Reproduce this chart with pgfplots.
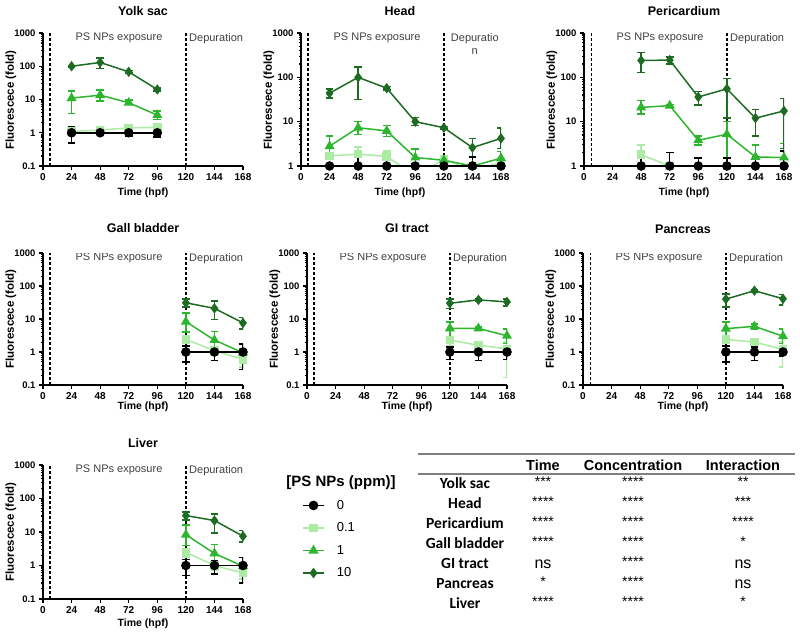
\documentclass[border=0pt]{standalone}
\usepackage{fontspec}
\setmainfont{Liberation Sans}
\newfontfamily\carlito{Carlito}
\usepackage{pgfplots}
\pgfplotsset{compat=1.18}
\definecolor{c01}{HTML}{ABEBA4}
\definecolor{c1}{HTML}{2DB52D}
\definecolor{c10}{HTML}{1E6B23}
\definecolor{txtg}{HTML}{404040}
\definecolor{rulec}{HTML}{7F7F7F}

\pgfplotsset{
  error bars/error bar style={line width=1.5pt, solid},
  error bars/error mark options={rotate=90, mark size=3.8pt, line width=1.5pt},
  every error bar/.append style={line width=1.5pt},
  /pgfplots/mypanel/.style={scale only axis, width=200pt, axis lines=left,
    axis line style={-, line width=1.3pt, black},
    xmin=0, xmax=168, xtick={0,24,48,72,96,120,144,168},
    xticklabels={0,24,48,72,96,120,144,168},
    tick align=outside, major tick length=4pt, minor tick length=2.2pt,
    every tick/.append style={black, line width=1.1pt},
    xticklabel style={font=\bfseries\fontsize{10}{11}\selectfont},
    yticklabel style={font=\bfseries\fontsize{9.5}{10}\selectfont},
  },
  /pgfplots/myeb/.style={error bars/.cd, y dir=both, y explicit,
    error bar style={line width=1.5pt, solid},
    error mark options={rotate=90, mark size=3.8pt, line width=1.5pt}, /pgfplots/.cd},
  /pgfplots/mysA/.style={black, line width=1.5pt, mark=*, mark size=4pt, mark options={solid}, /pgfplots/myeb},
  /pgfplots/mysB/.style={c01, line width=1.5pt, mark=square*, mark size=3.5pt, mark options={solid}, /pgfplots/myeb},
  /pgfplots/mysC/.style={c1, line width=1.5pt, mark=triangle*, mark size=4.3pt, mark options={solid}, /pgfplots/myeb},
  /pgfplots/mysD/.style={c10, line width=1.5pt, mark=diamond*, mark size=4pt, mark options={solid}, /pgfplots/myeb},
  /pgfplots/myvl/.style={black, line width=1.3pt, dash pattern=on 3pt off 2pt, mark=none, forget plot},
}
\tikzset{myann/.style={font=\fontsize{11}{13}\selectfont, text=txtg, inner sep=0pt}}
\newcommand{\vlines}[1]{%
  \addplot[myvl] coordinates {(6,#1) (6,1000)};
  \addplot[myvl] coordinates {(120,#1) (120,1000)};}
\newcommand{\anns}{%
  \node[myann, anchor=north] at (rel axis cs:0.38,1) {PS NPs exposure};
  \node[myann, anchor=north west] at (rel axis cs:0.73,1) {Depuration};}
\newcommand{\ttl}[2]{\node[font=\bfseries\fontsize{12.5}{14}\selectfont] at (#1) {#2};}
\newcommand{\xl}[1]{\node[font=\bfseries\fontsize{10.5}{12}\selectfont] at (#1) {Time (hpf)};}
\newcommand{\yl}[1]{\node[font=\bfseries\fontsize{11.5}{12}\selectfont, rotate=90] at (#1) {Fluorescece (fold)};}
\newcommand{\stars}[2]{\node[font=\fontsize{14}{15}\selectfont, anchor=base, inner sep=0pt] at (#1) {#2};}
\newcommand{\ns}[1]{\node[font=\fontsize{16}{17}\selectfont, anchor=base, inner sep=0pt] at (#1) {ns};}

\begin{document}
\begin{tikzpicture}[line width=1.5pt]
\path[use as bounding box] (0pt,0pt) rectangle (800pt,-637pt);

% ---------------- Yolk sac
\begin{axis}[mypanel, ymode=log, ymin=0.1, ymax=1000, ytick={0.1,1,10,100,1000}, yticklabels={0.1,1,10,100,1000},
    minor ytick={0.2,0.3,0.4,0.5,0.6,0.7,0.8,0.9,2,3,4,5,6,7,8,9,20,30,40,50,60,70,80,90,200,300,400,500,600,700,800,900},
    height=133pt, at={(43pt,-166pt)}, anchor=south west]
\vlines{0.1}
\addplot[mysB] table[x=x,y=y,y error plus=ep,y error minus=em,row sep=\\] {x y ep em\\ 24 1.1 0.1 0.1\\ 48 1.2 0.1 0.1\\ 72 1.4 0.1 0.1\\ 96 1.45 0.15 0.1\\};
\addplot[mysC] table[x=x,y=y,y error plus=ep,y error minus=em,row sep=\\] {x y ep em\\ 24 11 7 7.2\\ 48 13.5 5.5 4.5\\ 72 8 1.5 1.0\\ 96 3.4 1.1 0.9\\};
\addplot[mysD] table[x=x,y=y,y error plus=ep,y error minus=em,row sep=\\] {x y ep em\\ 24 100 5 5\\ 48 130 50 45\\ 72 68 6 6\\ 96 20 2 2\\};
\addplot[mysA] table[x=x,y=y,y error plus=ep,y error minus=em,row sep=\\] {x y ep em\\ 24 1 0.5 0.5\\ 48 1 0.1 0.1\\ 72 1 0.2 0.2\\ 96 1 0.3 0.25\\};
\anns
\end{axis}
\ttl{143pt,-11pt}{Yolk sac}\xl{143pt,-193pt}\yl{11pt,-100pt}

% ---------------- Head
\begin{axis}[mypanel, ymode=log, ymin=1, ymax=1000, ytick={1,10,100,1000}, yticklabels={1,10,100,1000},
    minor ytick={2,3,4,5,6,7,8,9,20,30,40,50,60,70,80,90,200,300,400,500,600,700,800,900},
    height=133pt, at={(301pt,-166pt)}, anchor=south west]
\vlines{1}
\addplot[mysB] table[x=x,y=y,y error plus=ep,y error minus=em,row sep=\\] {x y ep em\\ 24 1.7 0.2 0.2\\ 48 1.85 0.85 0.3\\ 72 1.65 0.55 0.3\\ 96 0.6 0.1 0.1\\ 120 1.4 0.2 0.2\\ 144 0.8 0.1 0.1\\ 168 1.2 0.3 0.3\\};
\addplot[mysC] table[x=x,y=y,y error plus=ep,y error minus=em,row sep=\\] {x y ep em\\ 24 2.8 2.0 1.1\\ 48 7.3 2.9 2.2\\ 72 6.2 2.0 1.6\\ 96 1.55 0.85 0.5\\ 120 1.35 0.2 0.2\\ 144 1.0 0.2 0.2\\ 168 1.5 0.6 0.5\\};
\addplot[mysD] table[x=x,y=y,y error plus=ep,y error minus=em,row sep=\\] {x y ep em\\ 24 44 11 10\\ 48 100 70 68\\ 72 57 5 5\\ 96 10 2.5 1.8\\ 120 7.3 0.5 0.5\\ 144 2.6 1.6 1.0\\ 168 4.2 3 1.7\\};
\addplot[mysA] table[x=x,y=y,y error plus=ep,y error minus=em,row sep=\\] {x y ep em\\ 24 1 0.05 0.05\\ 48 1 0.75 0.5\\ 72 1 0.35 0.3\\ 96 1 0.1 0.1\\ 120 1 0.1 0.1\\ 144 1 0.6 0.5\\ 168 1 0.2 0.2\\};
\node[myann, anchor=north] at (rel axis cs:0.38,1) {PS NPs exposure};
\node[myann, anchor=north, align=center] at (rel axis cs:0.869,1) {Depuratio\\n};
\end{axis}
\ttl{400pt,-11pt}{Head}\xl{400pt,-193pt}\yl{269pt,-100pt}

% ---------------- Pericardium
\begin{axis}[mypanel, ymode=log, ymin=1, ymax=1000, ytick={1,10,100,1000}, yticklabels={1,10,100,1000},
    minor ytick={2,3,4,5,6,7,8,9,20,30,40,50,60,70,80,90,200,300,400,500,600,700,800,900},
    height=133pt, at={(584pt,-166pt)}, anchor=south west]
\vlines{1}
\addplot[mysB] table[x=x,y=y,y error plus=ep,y error minus=em,row sep=\\] {x y ep em\\ 48 1.8 1.2 0.6\\ 72 1.0 0.1 0.1\\ 96 0.8 0.1 0.1\\ 120 1.0 0.5 0.3\\ 144 0.9 0.1 0.1\\ 168 0.9 0.1 0.1\\};
\addplot[mysC] table[x=x,y=y,y error plus=ep,y error minus=em,row sep=\\] {x y ep em\\ 48 21 9 6\\ 72 23 1.5 1.5\\ 96 3.8 1.0 0.8\\ 120 5.2 4.8 3.7\\ 144 1.6 1.4 0.6\\ 168 1.55 1.65 0.6\\};
\addplot[mysD] table[x=x,y=y,y error plus=ep,y error minus=em,row sep=\\] {x y ep em\\ 48 240 120 110\\ 72 245 45 45\\ 96 36 12 12\\ 120 55 40 43\\ 144 12 7 7.3\\ 168 17.5 15.5 15\\};
\addplot[mysA] table[x=x,y=y,y error plus=ep,y error minus=em,row sep=\\] {x y ep em\\ 48 1 0.5 0.5\\ 72 1 1.0 0.5\\ 96 1 0.5 0.5\\ 120 1 0.5 0.5\\ 144 1 0.6 0.5\\ 168 1 1.2 0.5\\};
\anns
\end{axis}
\ttl{684pt,-11pt}{Pericardium}\xl{684pt,-193pt}\yl{552pt,-100pt}

% ---------------- Gall bladder
\begin{axis}[mypanel, ymode=log, ymin=0.1, ymax=1000, ytick={0.1,1,10,100,1000}, yticklabels={0.1,1,10,100,1000},
    minor ytick={0.2,0.3,0.4,0.5,0.6,0.7,0.8,0.9,2,3,4,5,6,7,8,9,20,30,40,50,60,70,80,90,200,300,400,500,600,700,800,900},
    height=132pt, at={(43pt,-385pt)}, anchor=south west]
\vlines{0.1}
\addplot[mysB] table[x=x,y=y,y error plus=ep,y error minus=em,row sep=\\] {x y ep em\\ 120 2.4 0.6 0.6\\ 144 1.1 0.3 0.3\\ 168 0.6 0.3 0.25\\};
\addplot[mysC] table[x=x,y=y,y error plus=ep,y error minus=em,row sep=\\] {x y ep em\\ 120 8.3 6.7 4.3\\ 144 2.3 1.9 1.0\\ 168 0.95 0.3 0.3\\};
\addplot[mysD] table[x=x,y=y,y error plus=ep,y error minus=em,row sep=\\] {x y ep em\\ 120 31 9 8\\ 144 21 14 11.5\\ 168 7.6 3.4 2.6\\};
\addplot[mysA] table[x=x,y=y,y error plus=ep,y error minus=em,row sep=\\] {x y ep em\\ 120 1 0.5 0.5\\ 144 1 0.4 0.45\\ 168 1 0.75 0.7\\};
\anns
\end{axis}
\ttl{143pt,-228pt}{Gall bladder}\xl{143pt,-407pt}\yl{11pt,-319pt}

% ---------------- GI tract
\begin{axis}[mypanel, ymode=log, ymin=0.1, ymax=1000, ytick={0.1,1,10,100,1000}, yticklabels={0.1,1,10,100,1000},
    minor ytick={0.2,0.3,0.4,0.5,0.6,0.7,0.8,0.9,2,3,4,5,6,7,8,9,20,30,40,50,60,70,80,90,200,300,400,500,600,700,800,900},
    height=132pt, at={(307pt,-385pt)}, anchor=south west]
\vlines{0.1}
\addplot[mysB] table[x=x,y=y,y error plus=ep,y error minus=em,row sep=\\] {x y ep em\\ 120 2.3 0.7 0.7\\ 144 1.6 0.4 0.3\\ 168 1.25 0.75 1.08\\};
\addplot[mysC] table[x=x,y=y,y error plus=ep,y error minus=em,row sep=\\] {x y ep em\\ 120 5.2 2.8 2.2\\ 144 5.2 0.5 0.5\\ 168 3.1 1.9 1.3\\};
\addplot[mysD] table[x=x,y=y,y error plus=ep,y error minus=em,row sep=\\] {x y ep em\\ 120 30 10 9\\ 144 38 3 3\\ 168 33 7 8\\};
\addplot[mysA] table[x=x,y=y,y error plus=ep,y error minus=em,row sep=\\] {x y ep em\\ 120 1 0.4 0.4\\ 144 1 0.4 0.45\\ 168 1 0.4 0.4\\};
\anns
\end{axis}
\ttl{407pt,-228pt}{GI tract}\xl{407pt,-407pt}\yl{275pt,-319pt}

% ---------------- Pancreas
\begin{axis}[mypanel, ymode=log, ymin=0.1, ymax=1000, ytick={0.1,1,10,100,1000}, yticklabels={0.1,1,10,100,1000},
    minor ytick={0.2,0.3,0.4,0.5,0.6,0.7,0.8,0.9,2,3,4,5,6,7,8,9,20,30,40,50,60,70,80,90,200,300,400,500,600,700,800,900},
    height=132pt, at={(583pt,-385pt)}, anchor=south west]
\vlines{0.1}
\addplot[mysB] table[x=x,y=y,y error plus=ep,y error minus=em,row sep=\\] {x y ep em\\ 120 2.4 0.6 0.6\\ 144 2.0 0.4 0.4\\ 168 1.2 0.8 0.85\\};
\addplot[mysC] table[x=x,y=y,y error plus=ep,y error minus=em,row sep=\\] {x y ep em\\ 120 5.1 2.9 2.1\\ 144 6.0 1.0 1.0\\ 168 3.0 2.0 1.2\\};
\addplot[mysD] table[x=x,y=y,y error plus=ep,y error minus=em,row sep=\\] {x y ep em\\ 120 40 18 17\\ 144 72 6 7\\ 168 41 14 14\\};
\addplot[mysA] table[x=x,y=y,y error plus=ep,y error minus=em,row sep=\\] {x y ep em\\ 120 1 0.5 0.5\\ 144 1 0.4 0.45\\ 168 1 0.25 0.25\\};
\anns
\end{axis}
\ttl{683pt,-229pt}{Pancreas}\xl{683pt,-407pt}\yl{551pt,-319pt}

% ---------------- Liver (with legend)
\begin{axis}[mypanel, ymode=log, ymin=0.1, ymax=1000, ytick={0.1,1,10,100,1000}, yticklabels={0.1,1,10,100,1000},
    minor ytick={0.2,0.3,0.4,0.5,0.6,0.7,0.8,0.9,2,3,4,5,6,7,8,9,20,30,40,50,60,70,80,90,200,300,400,500,600,700,800,900},
    height=134pt, at={(43pt,-599pt)}, anchor=south west,
  legend image code/.code={\draw[mark repeat=2,mark phase=2,#1] plot coordinates {(0pt,0pt) (10.5pt,0pt) (21pt,0pt)};},
  legend style={at={(axis description cs:1.295,0.739)}, anchor=north west, draw=none, fill=none,
    font=\fontsize{13}{14}\selectfont, inner sep=0pt, row sep=12pt, column sep=12pt,
    nodes={inner sep=0pt}},
  legend cell align=left]
\vlines{0.1}
\addplot[forget plot, mysB] table[x=x,y=y,y error plus=ep,y error minus=em,row sep=\\] {x y ep em\\ 120 2.5 0.5 0.7\\ 144 1.0 0.3 0.3\\ 168 0.6 0.2 0.2\\};
\addplot[forget plot, mysC] table[x=x,y=y,y error plus=ep,y error minus=em,row sep=\\] {x y ep em\\ 120 8.3 7.7 4.3\\ 144 2.3 2.0 1.0\\ 168 0.95 0.3 0.3\\};
\addplot[forget plot, mysD] table[x=x,y=y,y error plus=ep,y error minus=em,row sep=\\] {x y ep em\\ 120 31 9 8\\ 144 22 13 12.5\\ 168 7.5 3.5 2.5\\};
\addplot[forget plot, mysA] table[x=x,y=y,y error plus=ep,y error minus=em,row sep=\\] {x y ep em\\ 120 1 0.5 0.5\\ 144 1 0.4 0.45\\ 168 1 0.75 0.7\\};
\anns
\addlegendimage{black, line width=1.6pt, mark=*, mark size=4pt}
\addlegendentry{0}
\addlegendimage{c01, line width=1.6pt, mark=square*, mark size=3.5pt}
\addlegendentry{0.1}
\addlegendimage{c1, line width=1.6pt, mark=triangle*, mark size=4.3pt}
\addlegendentry{1}
\addlegendimage{c10, line width=1.6pt, mark=diamond*, mark size=4pt}
\addlegendentry{10}
\end{axis}
\ttl{143pt,-443pt}{Liver}\xl{143pt,-624pt}\yl{11pt,-532pt}

\node[font=\bfseries\fontsize{15}{17}\selectfont] at (341pt,-483pt) {[PS NPs (ppm)]};

% ---------------- Table
\draw[rulec, line width=1.6pt] (418pt,-454pt) -- (795pt,-454pt);
\draw[rulec, line width=1.2pt] (418pt,-474pt) -- (795pt,-474pt);
\node[font=\bfseries\fontsize{14.5}{16}\selectfont, anchor=base, inner sep=0pt] at (543pt,-470pt) {Time};
\node[font=\bfseries\fontsize{14.5}{16}\selectfont, anchor=base, inner sep=0pt] at (633pt,-470pt) {Concentration};
\node[font=\bfseries\fontsize{14.5}{16}\selectfont, anchor=base, inner sep=0pt] at (743pt,-470pt) {Interaction};
\node[font=\carlito\bfseries\fontsize{15.5}{17}\selectfont, anchor=base, inner sep=0pt] at (465pt,-488pt) {Yolk sac};
\node[font=\carlito\bfseries\fontsize{15.5}{17}\selectfont, anchor=base, inner sep=0pt] at (465pt,-508pt) {Head};
\node[font=\carlito\bfseries\fontsize{15.5}{17}\selectfont, anchor=base, inner sep=0pt] at (465pt,-528pt) {Pericardium};
\node[font=\carlito\bfseries\fontsize{15.5}{17}\selectfont, anchor=base, inner sep=0pt] at (465pt,-548pt) {Gall bladder};
\node[font=\carlito\bfseries\fontsize{15.5}{17}\selectfont, anchor=base, inner sep=0pt] at (465pt,-568pt) {GI tract};
\node[font=\carlito\bfseries\fontsize{15.5}{17}\selectfont, anchor=base, inner sep=0pt] at (465pt,-588pt) {Pancreas};
\node[font=\carlito\bfseries\fontsize{15.5}{17}\selectfont, anchor=base, inner sep=0pt] at (465pt,-608pt) {Liver};
\stars{543pt,-486.6pt}{***}\stars{633pt,-486.6pt}{****}\stars{743pt,-486.6pt}{**}
\stars{543pt,-506.6pt}{****}\stars{633pt,-506.6pt}{****}\stars{743pt,-506.6pt}{***}
\stars{543pt,-526.6pt}{****}\stars{633pt,-526.6pt}{****}\stars{743pt,-526.6pt}{****}
\stars{543pt,-546.6pt}{****}\stars{633pt,-546.6pt}{****}\stars{743pt,-546.6pt}{*}
\ns{543pt,-568pt}\stars{633pt,-566.6pt}{****}\ns{743pt,-568pt}
\stars{543pt,-586.6pt}{*}\stars{633pt,-586.6pt}{****}\ns{743pt,-588pt}
\stars{543pt,-606.6pt}{****}\stars{633pt,-606.6pt}{****}\stars{743pt,-606.6pt}{*}
\end{tikzpicture}
\end{document}
